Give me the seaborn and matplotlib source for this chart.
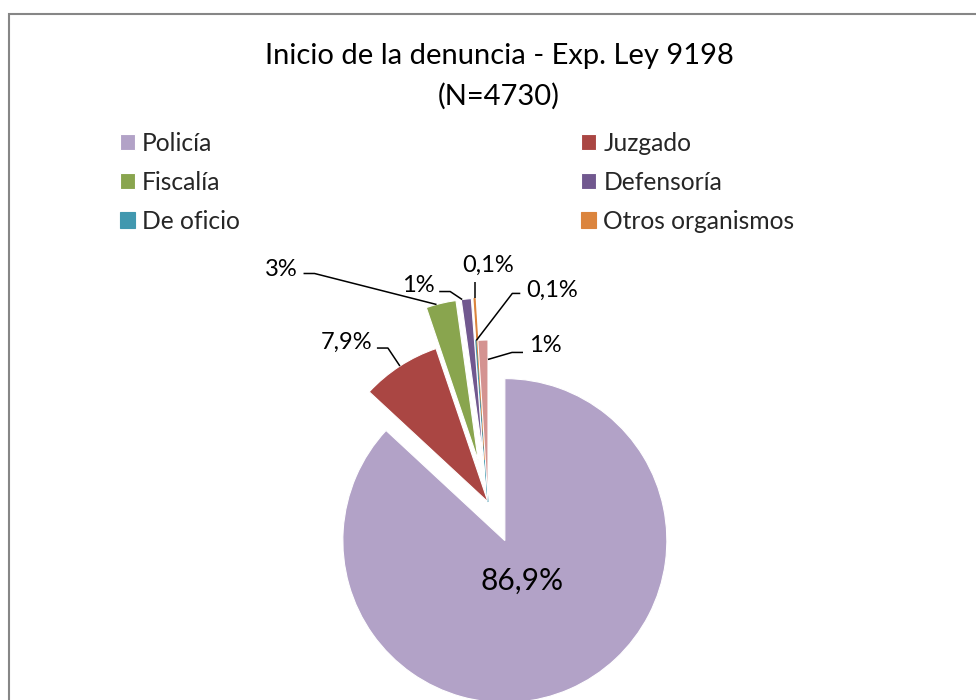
import matplotlib
matplotlib.use('Agg')
import matplotlib.pyplot as plt
import numpy as np
import seaborn as sns
from matplotlib.patches import Rectangle

# Data
categories = ['Policía', 'Juzgado', 'Fiscalía', 'Defensoría', 'De oficio', 'Otros organismos', 'Sin dato']
percentages = [86.9, 7.9, 3, 1, 0.1, 0.1, 1]
legend_count = 6  # the last slice has no legend entry
title_lines = ['Inicio de la denuncia - Exp. Ley 9198', '(N=4730)']

hex_colors = ['#B2A2C7', '#AA4643', '#89A54E', '#71588F', '#4198AF', '#DB843D', '#D49391']
explode = [0.26, 0, 0.26, 0.26, 0, 0.26, 0]

sns.set_theme(style='white')
plt.rcParams['font.family'] = ['Lato', 'DejaVu Sans']
colors = sns.color_palette(hex_colors)

W, H = 976, 700
R = 162.0          # pie radius in pixels
cx, cy = 488, 502  # pie centre, pixels from top-left

fig = plt.figure(figsize=(W / 100, H / 100), dpi=100)
ax = fig.add_axes([0, 0, 1, 1])
wedges, _ = ax.pie(percentages, colors=colors, explode=explode, startangle=90,
                   counterclock=False, radius=1,
                   wedgeprops=dict(edgecolor='white', linewidth=0.8))
for w, v in zip(wedges, percentages):
    if v < 0.5:  # keep hairline slices visible
        w.set_edgecolor(w.get_facecolor())
ax.set_xlim(-cx / R, (W - cx) / R)
ax.set_ylim(-(H - cy) / R, cy / R)
ax.set_aspect('equal')
ax.axis('off')


def fmt(v):
    return f'{v:g}'.replace('.', ',') + '%'


def point_on(w, t, rad):
    ang = np.deg2rad(w.theta1 + t * (w.theta2 - w.theta1))
    return (w.center[0] + rad * w.r * np.cos(ang),
            w.center[1] + rad * w.r * np.sin(ang))


# label placement: anchor on the wedge, then pixel offsets (screen, y down)
label_style = {
    1: dict(t=0.5, rad=1.0, elbow=(-12, -18), start=(-23, -18), text=(-28, -24), ha='right'),
    2: dict(t=0.65, rad=1.0, elbow=(-122, -31), start=(-133, -31), text=(-139, -35), ha='right'),
    3: dict(t=0.9, rad=1.0, elbow=(-12, -8), start=(-23, -8), text=(-28, -14), ha='right'),
    4: dict(t=0.5, rad=1.0, elbow=(36, -47), start=(44, -47), text=(50, -50), ha='left'),
    5: dict(t=0.5, rad=1.0, elbow=(0, -16), start=(0, -16), text=(14, -33), ha='center'),
    6: dict(t=0.0, rad=0.88, elbow=(24, -7), start=(35, -7), text=(41, -14), ha='left'),
}

for i, w in enumerate(wedges):
    if i == 0:
        x, y = point_on(w, 0.5, 0.27)
        ax.text(x, y, fmt(percentages[i]), ha='center', va='center', fontsize=21.5, color='black')
        continue
    s = label_style[i]
    ax0, ay0 = point_on(w, s['t'], s['rad'])
    xs = [ax0, ax0 + s['elbow'][0] / R, ax0 + s['start'][0] / R]
    ys = [ay0, ay0 - s['elbow'][1] / R, ay0 - s['start'][1] / R]
    ax.plot(xs, ys, color='black', lw=1.1, solid_capstyle='butt')
    ax.text(ax0 + s['text'][0] / R, ay0 - s['text'][1] / R, fmt(percentages[i]),
            ha=s['ha'], va='center', fontsize=17, color='black')

fig.text(499 / W, 1 - 76 / H, '\n'.join(title_lines), ha='center', va='center',
         fontsize=21, linespacing=1.63, color='black')

order = [0, 2, 4, 1, 3, 5]  # row-wise reading in two columns
fig.legend([wedges[k] for k in order], [categories[k] for k in order], ncol=2,
           loc='upper left', bbox_to_anchor=(120 / W, 1 - 132 / H), frameon=False,
           fontsize=17.7, handlelength=0.61, handleheight=0.61, handletextpad=0.28,
           labelspacing=0.65, columnspacing=13.9, borderpad=0, borderaxespad=0)

fig.patches.append(Rectangle((8.5 / W, -0.1), 1.2, 1 - 14.5 / H + 0.1, transform=fig.transFigure,
                             fill=False, edgecolor='#868686', linewidth=1.5))

fig.savefig('out.png', dpi=100)
